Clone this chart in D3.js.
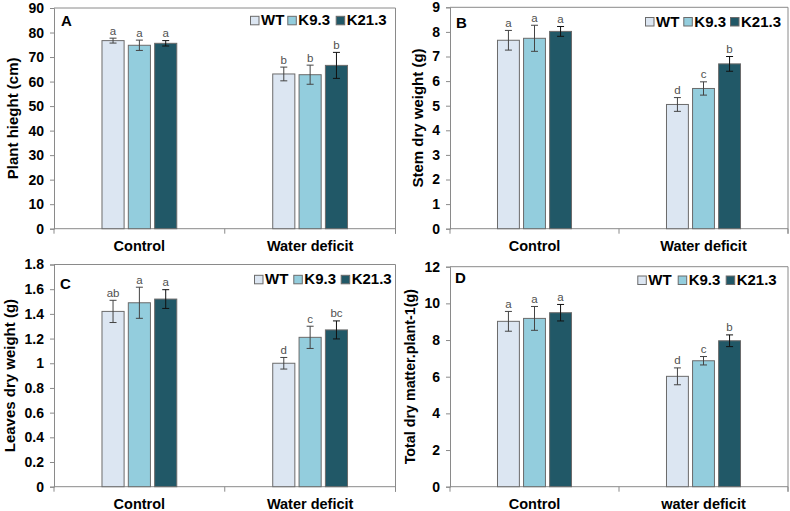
<!DOCTYPE html>
<html>
<head>
<meta charset="utf-8">
<script src="https://cdn.jsdelivr.net/npm/d3@7"></script>
<style>
  body { margin: 0; background: #fff; }
  svg { display: block; }
  text { font-family: "Liberation Sans", Arial, sans-serif; }
</style>
</head>
<body>
<svg id="chart" width="790" height="511"></svg>
<script>
// ---------------- DATA ----------------
const series = ["WT", "K9.3", "K21.3"];
const categoriesABC = ["Control", "Water deficit"];
const categoriesD = ["Control", "water deficit"];

// values indexed [category][series]
const plantHeight = [[76.7, 74.8, 75.6], [63.1, 62.8, 66.6]];
const plantHeightErr = [[1.0, 2.1, 1.1], [2.8, 3.9, 5.3]];
const plantHeightLetters = [["a", "a", "a"], ["b", "b", "b"]];
const plantHeightTicks = [0, 10, 20, 30, 40, 50, 60, 70, 80, 90];

const stemDry = [[7.66, 7.74, 8.02], [5.05, 5.70, 6.70]];
const stemDryErr = [[0.40, 0.53, 0.20], [0.28, 0.27, 0.30]];
const stemDryLetters = [["a", "a", "a"], ["d", "c", "b"]];
const stemDryTicks = [0, 1, 2, 3, 4, 5, 6, 7, 8, 9];

const leavesDry = [[1.42, 1.49, 1.52], [1.00, 1.21, 1.27]];
const leavesDryErr = [[0.09, 0.126, 0.076], [0.047, 0.09, 0.073]];
const leavesDryLetters = [["ab", "a", "a"], ["d", "c", "bc"]];
const leavesDryTicks = [0, 0.2, 0.4, 0.6, 0.8, 1, 1.2, 1.4, 1.6, 1.8];

const totalDry = [[9.02, 9.18, 9.49], [6.02, 6.87, 7.96]];
const totalDryErr = [[0.54, 0.65, 0.45], [0.46, 0.23, 0.32]];
const totalDryLetters = [["a", "a", "a"], ["d", "c", "b"]];
const totalDryTicks = [0, 2, 4, 6, 8, 10, 12];

// ---------------- STYLE / LAYOUT ----------------
const colors = ["#dce6f2", "#93cddd", "#215867"];
const panels = [
  { letter: "A", title: "Plant hieght (cm)", cats: categoriesABC, vals: plantHeight, errs: plantHeightErr, lets: plantHeightLetters, ticks: plantHeightTicks,
    x0: 54, x1: 395.5, y0: 8, y1: 228.7, titleX: 12.5, letterX: 61, letterY: 26, legX: [250, 287.3, 335.7], legY: 25.3, titleSize: 15 },
  { letter: "B", title: "Stem dry weight (g)", cats: categoriesABC, vals: stemDry, errs: stemDryErr, lets: stemDryLetters, ticks: stemDryTicks,
    x0: 450, x1: 788, y0: 7.3, y1: 228.7, titleX: 418, letterX: 456, letterY: 28, legX: [645, 683.3, 730], legY: 26.5, titleSize: 15 },
  { letter: "C", title: "Leaves dry weight (g)", cats: categoriesABC, vals: leavesDry, errs: leavesDryErr, lets: leavesDryLetters, ticks: leavesDryTicks,
    x0: 54, x1: 395.5, y0: 264.5, y1: 486.7, titleX: 10, letterX: 60, letterY: 289, legX: [254, 293.3, 340.7], legY: 284.3, titleSize: 15 },
  { letter: "D", title: "Total dry matter.plant-1(g)", cats: categoriesD, vals: totalDry, errs: totalDryErr, lets: totalDryLetters, ticks: totalDryTicks,
    x0: 450, x1: 788, y0: 266.7, y1: 486.7, titleX: 410, letterX: 455, letterY: 283, legX: [637.3, 677.7, 725.7], legY: 285, titleSize: 14.3 }
];

const svg = d3.select("#chart");
const axisColor = "#8a8a8a";
const fmt = d => String(+d.toFixed(1));

panels.forEach(p => {
  const g = svg.append("g");
  const ymax = p.ticks[p.ticks.length - 1];
  const y = d3.scaleLinear().domain([0, ymax]).range([p.y1, p.y0]);
  const x0 = d3.scaleBand().domain(p.cats).range([p.x0, p.x1]).padding(0);
  const bw = x0.bandwidth();
  const groupW = bw * 0.438;
  const x1 = d3.scaleBand().domain(series)
    .range([0, groupW]).paddingInner(0.16).paddingOuter(0);

  // frame (top & right)
  g.append("path")
    .attr("d", `M${p.x0},${p.y0}H${p.x1}V${p.y1 + 5}`)
    .attr("fill", "none").attr("stroke", axisColor).attr("stroke-width", 1);

  // y axis
  const yAxis = d3.axisLeft(y).tickValues(p.ticks).tickFormat(fmt).tickSize(4).tickPadding(6);
  const ya = g.append("g").attr("transform", `translate(${p.x0},0)`).call(yAxis);
  ya.select(".domain").attr("stroke", axisColor);
  ya.selectAll(".tick line").attr("stroke", axisColor);
  ya.selectAll(".tick text").attr("font-size", 14).attr("font-weight", "bold").attr("fill", "#000");

  // x axis
  const xa = g.append("g").attr("transform", `translate(0,${p.y1})`)
    .call(d3.axisBottom(x0).tickSize(0).tickPadding(0).tickFormat(""));
  xa.select(".domain").attr("stroke", axisColor).attr("d", `M${p.x0},0H${p.x1}`);
  // boundary ticks
  const bounds = [p.x0, ...p.cats.map(c => x0(c) + bw)];
  g.selectAll(".xb").data(bounds).join("line")
    .attr("x1", d => d).attr("x2", d => d)
    .attr("y1", p.y1).attr("y2", p.y1 + 5)
    .attr("stroke", axisColor);
  // category labels
  g.selectAll(".cat").data(p.cats).join("text")
    .attr("x", d => x0(d) + bw / 2).attr("y", p.y1 + 22)
    .attr("text-anchor", "middle").attr("font-size", 14.5).attr("font-weight", "bold")
    .text(d => d);

  // bars
  p.cats.forEach((c, ci) => {
    const gx = x0(c) + (bw - groupW) / 2;
    series.forEach((s, si) => {
      const v = p.vals[ci][si], e = p.errs[ci][si];
      const bx = gx + x1(s), w = x1.bandwidth();
      g.append("rect")
        .attr("x", bx).attr("y", y(v)).attr("width", w).attr("height", y(0) - y(v))
        .attr("fill", colors[si]).attr("stroke", "#6b6b6b").attr("stroke-width", 1);
      const cx = bx + w / 2;
      const ec = si === 2 ? "#111" : "#444";
      g.append("line").attr("x1", cx).attr("x2", cx).attr("y1", y(v - e)).attr("y2", y(v + e)).attr("stroke", ec);
      g.append("line").attr("x1", cx - 3.5).attr("x2", cx + 3.5).attr("y1", y(v + e)).attr("y2", y(v + e)).attr("stroke", ec);
      g.append("line").attr("x1", cx - 3.5).attr("x2", cx + 3.5).attr("y1", y(v - e)).attr("y2", y(v - e)).attr("stroke", ec);
      g.append("text").attr("x", cx).attr("y", y(v + e) - 3.5)
        .attr("text-anchor", "middle").attr("font-size", 11.5).attr("fill", "#505050")
        .text(p.lets[ci][si]);
    });
  });

  // y title
  g.append("text")
    .attr("transform", `translate(${p.titleX},${(p.y0 + p.y1) / 2}) rotate(-90)`)
    .attr("text-anchor", "middle").attr("dy", "0.35em")
    .attr("font-size", p.titleSize).attr("font-weight", "bold")
    .text(p.title);

  // panel letter
  g.append("text").attr("x", p.letterX).attr("y", p.letterY)
    .attr("font-size", 15).attr("font-weight", "bold").text(p.letter);

  // legend
  series.forEach((s, si) => {
    g.append("rect").attr("x", p.legX[si] + 0.5).attr("y", p.legY - 9).attr("width", 8.5).attr("height", 8.5)
      .attr("fill", colors[si]).attr("stroke", "#6b6b6b").attr("stroke-width", 1);
    g.append("text").attr("x", p.legX[si] + 11).attr("y", p.legY)
      .attr("font-size", 15).attr("font-weight", "bold").text(s);
  });
});
</script>
</body>
</html>
